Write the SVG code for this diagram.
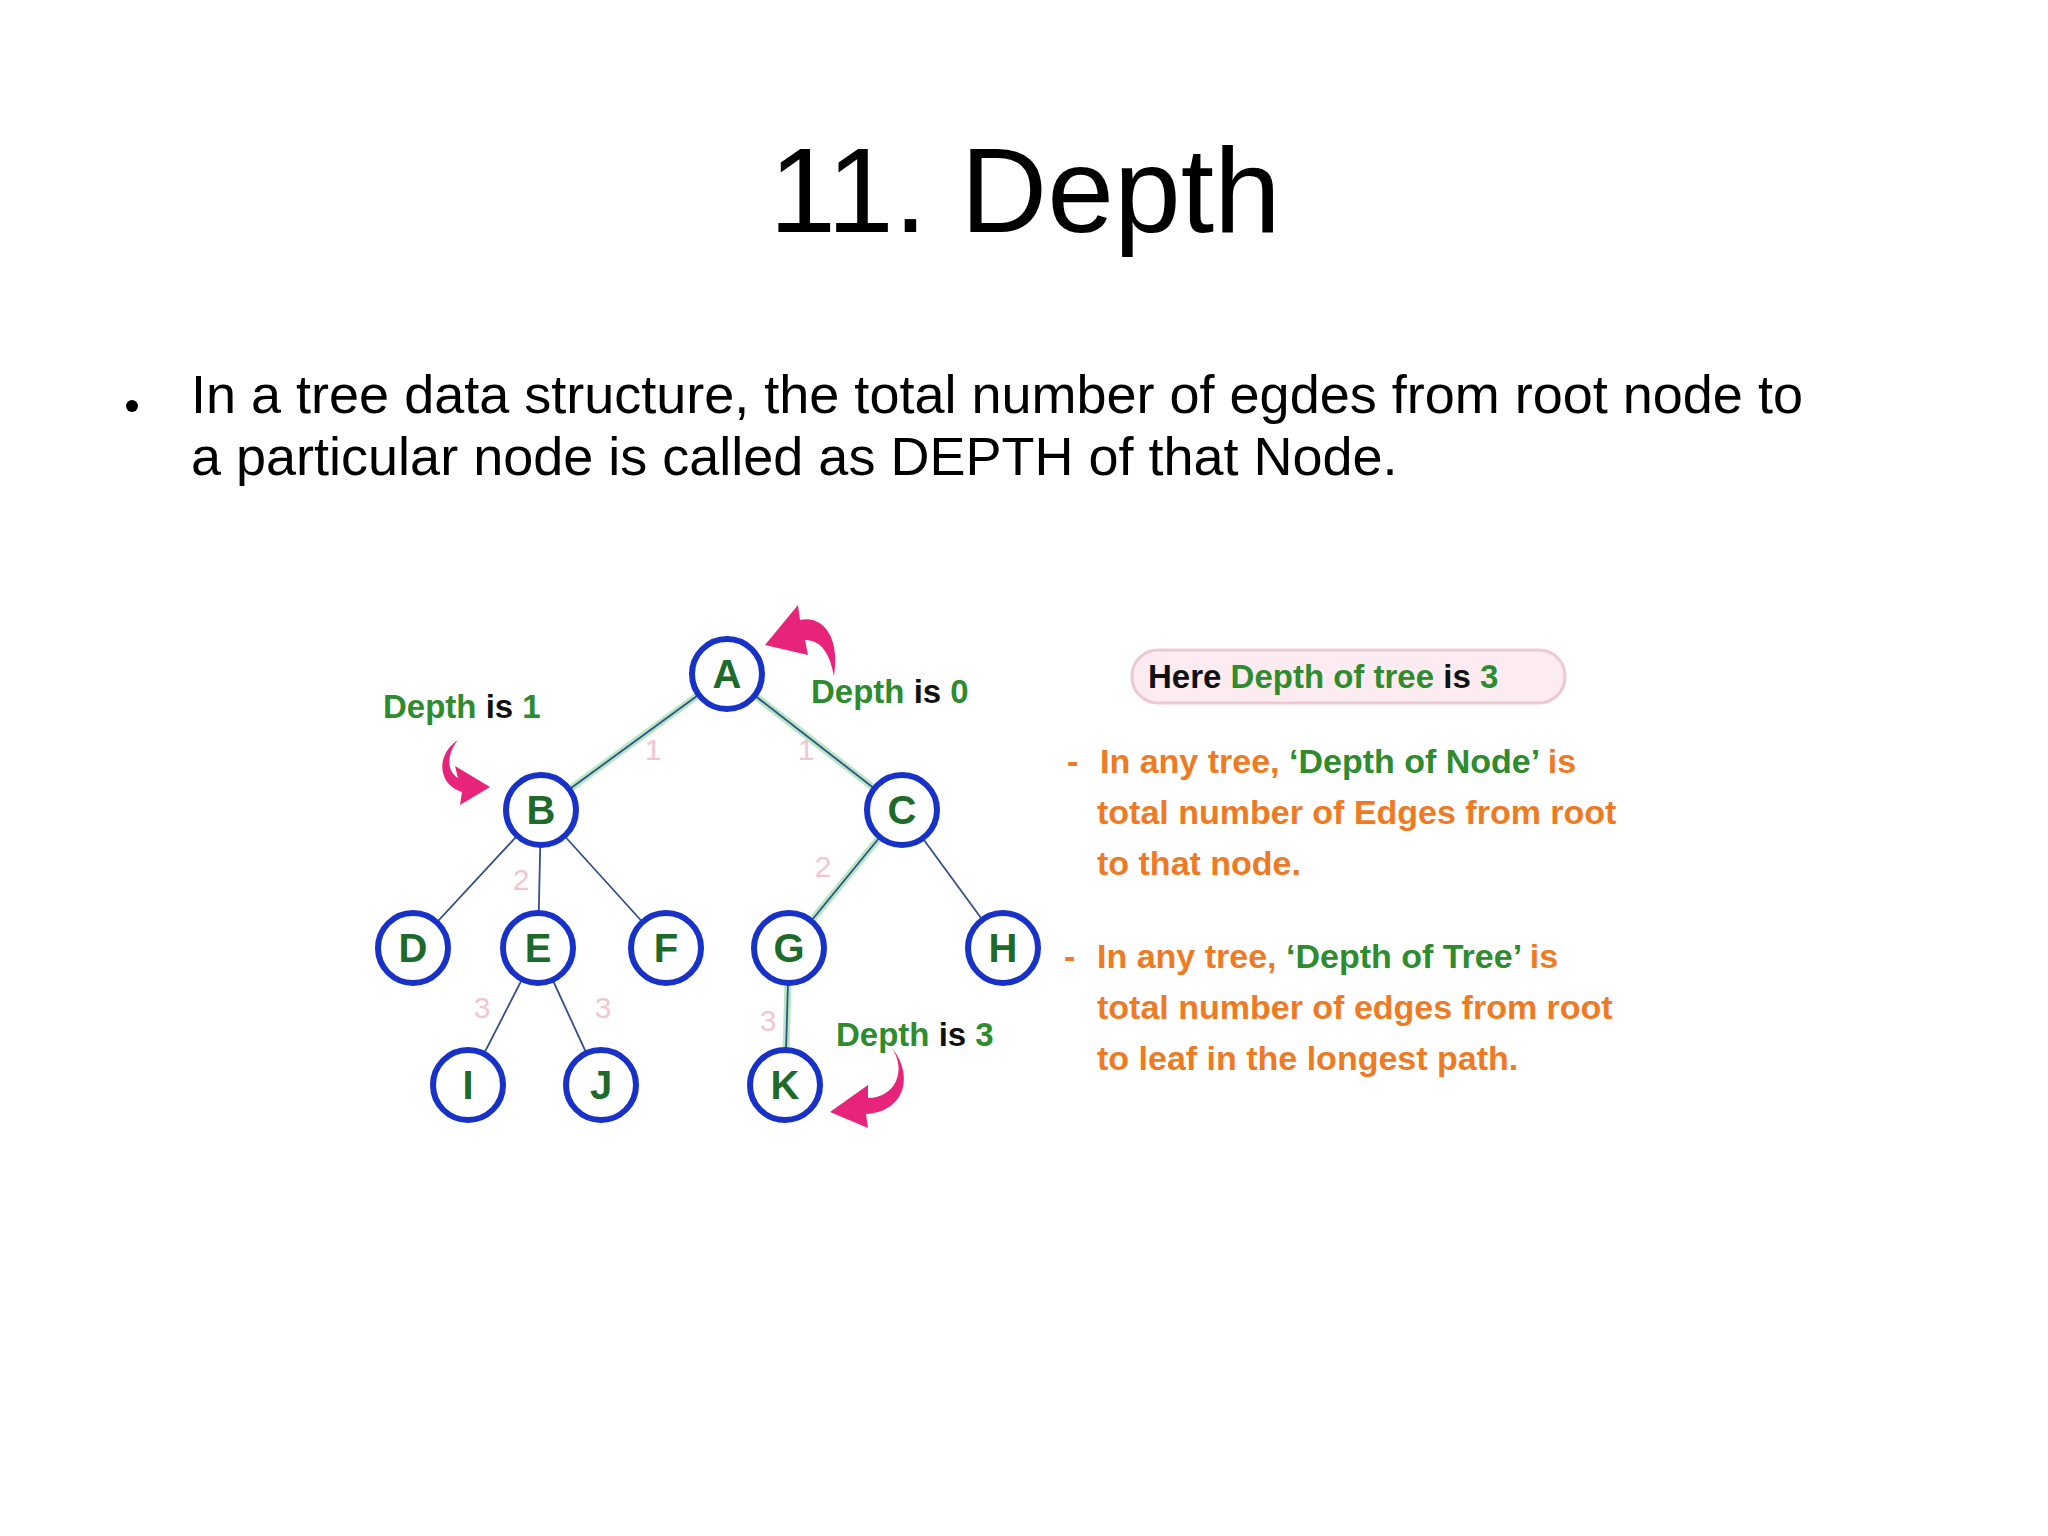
<svg xmlns="http://www.w3.org/2000/svg" width="2048" height="1536" viewBox="0 0 2048 1536">
<style>
.n circle{fill:#fff;stroke:#1832c8;stroke-width:6}
.n text{font-family:"Liberation Sans",Arial,sans-serif;font-weight:bold;font-size:40px;fill:#1d6a2a;text-anchor:middle}
.glow{stroke:#b5e8c2;stroke-width:7;fill:none}
.e{stroke:#34508a;stroke-width:1.8;fill:none}
.el{font-family:"Liberation Sans",Arial,sans-serif;font-size:30px;fill:#f2c6cf;text-anchor:middle}
.d{font-family:"Liberation Sans",Arial,sans-serif;font-weight:bold;font-size:33px;fill:#2e8b2e}
.k{fill:#111}
.o{font-family:"Liberation Sans",Arial,sans-serif;font-weight:bold;font-size:34px;fill:#ee7b24}
.g{fill:#2e8b2e}
.arr{fill:#e8247a}
</style>
<rect width="2048" height="1536" fill="#fff"/>
<text x="1025" y="232" font-family="Liberation Sans,Arial,sans-serif" font-size="120" text-anchor="middle" fill="#000">11. Depth</text>
<circle cx="132" cy="406" r="6" fill="#000"/>
<text font-family="Liberation Sans,Arial,sans-serif" font-size="54" fill="#000"><tspan x="191" y="413">In a tree data structure, the total number of egdes from root node to</tspan><tspan x="191" y="475">a particular node is called as DEPTH of that Node.</tspan></text>
<g id="connectors">
<path class="glow" d="M727 674L541 810M727 674L902 810M902 810L789 948M789 948L785 1085"/>
<path class="e" d="M727 674L541 810M727 674L902 810M902 810L789 948M789 948L785 1085M541 810L413 948M541 810L538 948M541 810L666 948M902 810L1003 948M538 948L468 1085M538 948L601 1085"/>
</g>
<g id="edge-labels">
<text class="el" x="653" y="760">1</text><text class="el" x="806" y="760">1</text>
<text class="el" x="521" y="890">2</text><text class="el" x="823" y="877">2</text>
<text class="el" x="482" y="1018">3</text><text class="el" x="603" y="1018">3</text><text class="el" x="768" y="1031">3</text>
</g>
<g id="A" class="n"><circle cx="727" cy="674" r="35"/><text x="727" y="688">A</text></g>
<g id="B" class="n"><circle cx="541" cy="810" r="35"/><text x="541" y="824">B</text></g>
<g id="C" class="n"><circle cx="902" cy="810" r="35"/><text x="902" y="824">C</text></g>
<g id="D" class="n"><circle cx="413" cy="948" r="35"/><text x="413" y="962">D</text></g>
<g id="E" class="n"><circle cx="538" cy="948" r="35"/><text x="538" y="962">E</text></g>
<g id="F" class="n"><circle cx="666" cy="948" r="35"/><text x="666" y="962">F</text></g>
<g id="G" class="n"><circle cx="789" cy="948" r="35"/><text x="789" y="962">G</text></g>
<g id="H" class="n"><circle cx="1003" cy="948" r="35"/><text x="1003" y="962">H</text></g>
<g id="I" class="n"><circle cx="468" cy="1085" r="35"/><text x="468" y="1099">I</text></g>
<g id="J" class="n"><circle cx="601" cy="1085" r="35"/><text x="601" y="1099">J</text></g>
<g id="K" class="n"><circle cx="785" cy="1085" r="35"/><text x="785" y="1099">K</text></g>
<g id="arrows">
<path class="arr" d="M834 676C840 640 825 615 800 620L798 605L765 645L808 655L805 640C822 640 830 655 834 676Z"/>
<path class="arr" d="M458 740C435 755 438 785 462 792L460 805L490 787L455 766L458 778C445 770 448 752 458 740Z"/>
<path class="arr" d="M891 1047C908 1070 895 1098 868 1098L868 1085L830 1112L868 1128L866 1114C905 1112 915 1075 891 1047Z"/>
</g>
<g id="labels">
<text class="d" x="383" y="718">Depth <tspan class="k">is</tspan> 1</text>
<text class="d" x="811" y="703">Depth <tspan class="k">is</tspan> 0</text>
<text class="d" x="836" y="1046">Depth <tspan class="k">is</tspan> 3</text>
</g>
<g id="note">
<rect x="1132" y="650" width="433" height="53" rx="26" fill="#fcebf0" stroke="#ecc9d3" stroke-width="3"/>
<text class="d" x="1148" y="688"><tspan class="k">Here</tspan> Depth of tree <tspan class="k">is</tspan> 3</text>
<text class="o"><tspan x="1067" y="773">-</tspan><tspan x="1100" y="773">In any tree, <tspan class="g">‘Depth of Node’</tspan> is</tspan><tspan x="1097" y="824">total number of Edges from root</tspan><tspan x="1097" y="875">to that node.</tspan></text>
<text class="o"><tspan x="1064" y="968">-</tspan><tspan x="1097" y="968">In any tree, <tspan class="g">‘Depth of Tree’</tspan> is</tspan><tspan x="1097" y="1019">total number of edges from root</tspan><tspan x="1097" y="1070">to leaf in the longest path.</tspan></text>
</g>
</svg>
